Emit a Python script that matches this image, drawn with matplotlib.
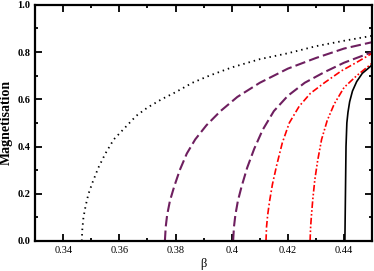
import matplotlib
matplotlib.use("Agg")
import matplotlib.pyplot as plt
from matplotlib.ticker import MultipleLocator

# curves (beta, magnetisation)
b_dot = [0.3466, 0.3468, 0.3472, 0.348, 0.349, 0.3505, 0.3525, 0.355, 0.358, 0.362, 0.366,
         0.37, 0.375, 0.38, 0.386, 0.392, 0.40, 0.41, 0.42, 0.43, 0.44, 0.45]
m_dot = [0.0, 0.05, 0.10, 0.15, 0.20, 0.25, 0.31, 0.37, 0.43, 0.48, 0.53,
         0.565, 0.60, 0.63, 0.67, 0.70, 0.735, 0.77, 0.795, 0.825, 0.848, 0.869]

b_dash1 = [0.3762, 0.3765, 0.377, 0.378, 0.3795, 0.3815, 0.384, 0.387, 0.391, 0.396, 0.402,
           0.41, 0.42, 0.43, 0.44, 0.45]
m_dash1 = [0.0, 0.06, 0.11, 0.17, 0.23, 0.30, 0.37, 0.43, 0.49, 0.55, 0.61,
           0.67, 0.73, 0.775, 0.815, 0.842]

b_dash2 = [0.4005, 0.4008, 0.4013, 0.4022, 0.4035, 0.4055, 0.408, 0.411, 0.415, 0.42,
           0.426, 0.433, 0.44, 0.45]
m_dash2 = [0.0, 0.06, 0.11, 0.17, 0.23, 0.31, 0.39, 0.47, 0.55, 0.615,
           0.67, 0.715, 0.755, 0.80]

b_dd = [0.4122, 0.4124, 0.4128, 0.4135, 0.4145, 0.416, 0.418, 0.4205, 0.424, 0.428,
        0.433, 0.439, 0.445, 0.45]
m_dd = [0.0, 0.06, 0.11, 0.17, 0.24, 0.32, 0.415, 0.50, 0.57, 0.625,
        0.67, 0.72, 0.76, 0.795]

b_ddd = [0.4279, 0.4281, 0.4284, 0.4289, 0.4296, 0.4306, 0.432, 0.434, 0.4365, 0.44,
         0.4445, 0.45]
m_ddd = [0.0, 0.06, 0.11, 0.18, 0.26, 0.34, 0.43, 0.51, 0.58, 0.65,
         0.70, 0.753]

b_exact = [0.4403, 0.4405, 0.4407, 0.441, 0.4414, 0.442, 0.443, 0.4445, 0.4465, 0.4485, 0.45]
m_exact = [0.0, 0.2, 0.4, 0.5, 0.545, 0.59, 0.635, 0.675, 0.71, 0.73, 0.746]

purple = "#6e1f5f"

fig = plt.figure(figsize=(3.74, 2.71), dpi=100)
ax = fig.add_axes([0.094, 0.111, 0.901, 0.871])

ax.plot(b_dot, m_dot, color="black", lw=1.3, ls=(0, (0.8, 2.2)))
ax.plot(b_dash1, m_dash1, color=purple, lw=1.5, ls=(0, (5, 2)))
ax.plot(b_dash2, m_dash2, color=purple, lw=1.5, ls=(0, (5, 2)))
ax.plot(b_dd, m_dd, color="red", lw=1.2, ls=(0, (4, 1.5, 1, 1.5)))
ax.plot(b_ddd, m_ddd, color="red", lw=1.2, ls=(0, (4, 1.3, 1, 1.3, 1, 1.3)))
ax.plot(b_exact, m_exact, color="black", lw=1.2)

ax.set_xlim(0.33, 0.45)
ax.set_ylim(0.0, 1.0)
ax.xaxis.set_minor_locator(MultipleLocator(0.01))
ax.yaxis.set_major_locator(MultipleLocator(0.2))
ax.yaxis.set_minor_locator(MultipleLocator(0.1))
ax.set_xticks([0.34, 0.36, 0.38, 0.40, 0.42, 0.44])
ax.set_xticklabels(["0.34", "0.36", "0.38", "0.4", "0.42", "0.44"])

ax.tick_params(which="both", direction="in", top=True, right=True, width=1.3)
ax.tick_params(which="major", length=5)
ax.tick_params(which="minor", length=2.5)
for s in ax.spines.values():
    s.set_linewidth(1.6)

for lab in ax.get_xticklabels():
    lab.set_family("Liberation Serif")
    lab.set_fontsize(7.5)
for lab in ax.get_yticklabels():
    lab.set_family("Liberation Serif")
    lab.set_fontsize(7.5)
    lab.set_fontweight("bold")

ax.set_xlabel("β", family="Liberation Serif", fontsize=9, labelpad=2)
ax.set_ylabel("Magnetisation", family="Liberation Serif", fontsize=10, fontweight="bold", labelpad=3)

fig.savefig("out.png", dpi=100)
